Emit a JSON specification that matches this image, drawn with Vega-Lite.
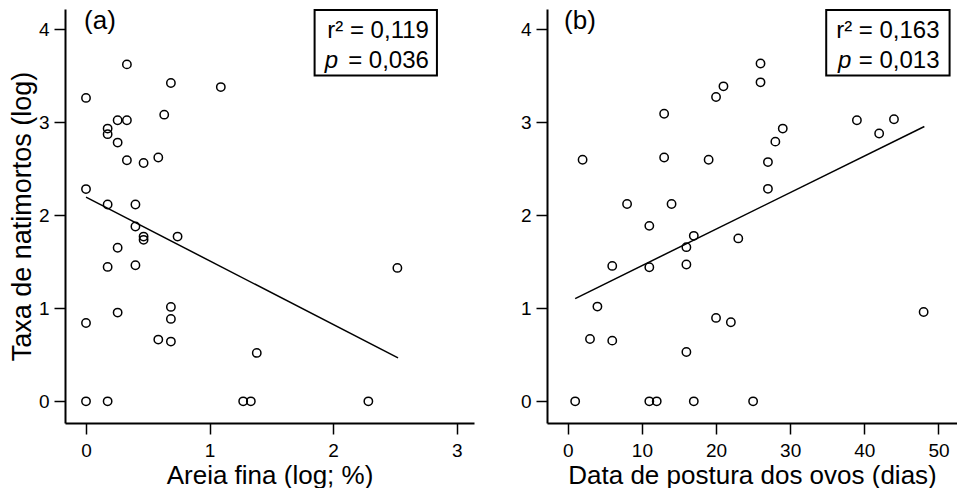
{
  "$schema": "https://vega.github.io/schema/vega-lite/v6.json",
  "padding": {"left": 8, "top": 8, "right": 0, "bottom": 0},
  "background": "white",
  "config": {
    "view": {"stroke": null},
    "font": "Liberation Sans",
    "axis": {
      "domainColor": "black", "domainWidth": 2, "tickColor": "black", "tickWidth": 1.5, "tickSize": 11,
      "labelFontSize": 19, "labelColor": "black", "labelFont": "Liberation Sans",
      "titleFontSize": 26, "titleFontWeight": "normal", "titleColor": "black", "titleFont": "Liberation Sans",
      "grid": false, "labelFlush": false, "labelOverlap": false, "format": "d"
    },
    "axisY": {"labelPadding": 5, "titlePadding": 2, "titleFontSize": 27},
    "axisX": {"labelPadding": 7, "titlePadding": 2},
    "text": {"font": "Liberation Sans", "color": "black"}
  },
  "datasets": {
    "areia": [
      {"x": 0.331, "y": 3.62}, {"x": 0.687, "y": 3.42}, {"x": 1.091, "y": 3.376}, {"x": 0, "y": 3.26},
      {"x": 0.633, "y": 3.08}, {"x": 0.256, "y": 3.02}, {"x": 0.331, "y": 3.02}, {"x": 0.175, "y": 2.93},
      {"x": 0.175, "y": 2.87}, {"x": 0.256, "y": 2.78}, {"x": 0.331, "y": 2.59}, {"x": 0.466, "y": 2.56},
      {"x": 0.585, "y": 2.62}, {"x": 0, "y": 2.28}, {"x": 0.175, "y": 2.115}, {"x": 0.4, "y": 2.115},
      {"x": 0.4, "y": 1.878}, {"x": 0.466, "y": 1.77}, {"x": 0.466, "y": 1.735}, {"x": 0.741, "y": 1.77},
      {"x": 0.256, "y": 1.65}, {"x": 0.175, "y": 1.444}, {"x": 0.4, "y": 1.462}, {"x": 2.52, "y": 1.433},
      {"x": 0.687, "y": 1.014}, {"x": 0.256, "y": 0.953}, {"x": 0.687, "y": 0.885}, {"x": 0, "y": 0.842},
      {"x": 0.585, "y": 0.663}, {"x": 0.687, "y": 0.642}, {"x": 1.382, "y": 0.52}, {"x": 0, "y": 0},
      {"x": 0.175, "y": 0}, {"x": 1.272, "y": 0}, {"x": 1.334, "y": 0}, {"x": 2.285, "y": 0}
    ],
    "dias": [
      {"x": 26, "y": 3.63}, {"x": 26, "y": 3.427}, {"x": 21, "y": 3.384}, {"x": 20, "y": 3.27},
      {"x": 13, "y": 3.09}, {"x": 39, "y": 3.02}, {"x": 44, "y": 3.03}, {"x": 42, "y": 2.877},
      {"x": 29, "y": 2.93}, {"x": 28, "y": 2.79}, {"x": 2, "y": 2.595}, {"x": 13, "y": 2.62},
      {"x": 19, "y": 2.595}, {"x": 27, "y": 2.57}, {"x": 27, "y": 2.283}, {"x": 8, "y": 2.12},
      {"x": 14, "y": 2.12}, {"x": 11, "y": 1.885}, {"x": 17, "y": 1.778}, {"x": 23, "y": 1.75},
      {"x": 16, "y": 1.656}, {"x": 6, "y": 1.455}, {"x": 11, "y": 1.44}, {"x": 16, "y": 1.47},
      {"x": 4, "y": 1.018}, {"x": 48, "y": 0.96}, {"x": 20, "y": 0.896}, {"x": 22, "y": 0.85},
      {"x": 3, "y": 0.67}, {"x": 6, "y": 0.652}, {"x": 16, "y": 0.53}, {"x": 1, "y": 0},
      {"x": 11, "y": 0}, {"x": 12, "y": 0}, {"x": 17, "y": 0}, {"x": 25, "y": 0}
    ]
  },
  "hconcat": [
    {
      "width": 409, "height": 414,
      "layer": [
        {
          "data": {"values": [{"x": 1.85, "x2": 2.84, "y": 4.204, "y2": 3.5}]},
          "mark": {"type": "rect", "fill": "white", "stroke": "black", "strokeWidth": 2},
          "encoding": {
            "x": {"field": "x", "type": "quantitative", "scale": {"domain": [-0.17, 3.14], "nice": false, "zero": false},
                  "axis": {"values": [0, 1, 2, 3], "title": "Areia fina (log; %)"}},
            "x2": {"field": "x2"},
            "y": {"field": "y", "type": "quantitative", "scale": {"domain": [-0.233, 4.215], "nice": false, "zero": false},
                  "axis": {"values": [0, 1, 2, 3, 4], "title": "Taxa de natimortos (log)"}},
            "y2": {"field": "y2"}
          }
        },
        {
          "data": {"name": "areia"},
          "mark": {"type": "point", "shape": "circle", "filled": false, "stroke": "black", "strokeWidth": 1.5, "size": 70, "opacity": 1},
          "encoding": {
            "x": {"field": "x", "type": "quantitative"},
            "y": {"field": "y", "type": "quantitative"}
          }
        },
        {
          "data": {"values": [{"x": 0, "y": 2.194}, {"x": 2.525, "y": 0.466}]},
          "mark": {"type": "line", "color": "black", "strokeWidth": 1.5},
          "encoding": {
            "x": {"field": "x", "type": "quantitative"},
            "y": {"field": "y", "type": "quantitative"}
          }
        },
        {
          "data": {"values": [
            {"x": 2.775, "y": 3.98, "t": "r² = 0,119"},
            {"x": 2.775, "y": 3.656, "t": "= 0,036"}
          ]},
          "mark": {"type": "text", "fontSize": 24, "align": "right", "baseline": "middle"},
          "encoding": {
            "x": {"field": "x", "type": "quantitative"},
            "y": {"field": "y", "type": "quantitative"},
            "text": {"field": "t"}
          }
        },
        {
          "data": {"values": [{"x": 1.932, "y": 3.656, "t": "p"}]},
          "mark": {"type": "text", "fontSize": 24, "fontStyle": "italic", "align": "left", "baseline": "middle"},
          "encoding": {
            "x": {"field": "x", "type": "quantitative"},
            "y": {"field": "y", "type": "quantitative"},
            "text": {"field": "t"}
          }
        },
        {
          "data": {"values": [{"x": -0.016, "y": 4.086, "t": "(a)"}]},
          "mark": {"type": "text", "fontSize": 26, "align": "left", "baseline": "middle"},
          "encoding": {
            "x": {"field": "x", "type": "quantitative"},
            "y": {"field": "y", "type": "quantitative"},
            "text": {"field": "t"}
          }
        }
      ]
    },
    {
      "width": 410, "height": 414,
      "layer": [
        {
          "data": {"values": [{"x": 34.86, "x2": 51.5, "y": 4.204, "y2": 3.5}]},
          "mark": {"type": "rect", "fill": "white", "stroke": "black", "strokeWidth": 2},
          "encoding": {
            "x": {"field": "x", "type": "quantitative", "scale": {"domain": [-2.8, 52.5], "nice": false, "zero": false},
                  "axis": {"values": [0, 10, 20, 30, 40, 50], "title": "Data de postura dos ovos (dias)"}},
            "x2": {"field": "x2"},
            "y": {"field": "y", "type": "quantitative", "scale": {"domain": [-0.233, 4.215], "nice": false, "zero": false},
                  "axis": {"values": [0, 1, 2, 3, 4], "title": null}},
            "y2": {"field": "y2"}
          }
        },
        {
          "data": {"name": "dias"},
          "mark": {"type": "point", "shape": "circle", "filled": false, "stroke": "black", "strokeWidth": 1.5, "size": 70, "opacity": 1},
          "encoding": {
            "x": {"field": "x", "type": "quantitative"},
            "y": {"field": "y", "type": "quantitative"}
          }
        },
        {
          "data": {"values": [{"x": 1, "y": 1.104}, {"x": 48.1, "y": 2.953}]},
          "mark": {"type": "line", "color": "black", "strokeWidth": 1.5},
          "encoding": {
            "x": {"field": "x", "type": "quantitative"},
            "y": {"field": "y", "type": "quantitative"}
          }
        },
        {
          "data": {"values": [
            {"x": 50.15, "y": 3.98, "t": "r² = 0,163"},
            {"x": 50.15, "y": 3.656, "t": "= 0,013"}
          ]},
          "mark": {"type": "text", "fontSize": 24, "align": "right", "baseline": "middle"},
          "encoding": {
            "x": {"field": "x", "type": "quantitative"},
            "y": {"field": "y", "type": "quantitative"},
            "text": {"field": "t"}
          }
        },
        {
          "data": {"values": [{"x": 36.44, "y": 3.656, "t": "p"}]},
          "mark": {"type": "text", "fontSize": 24, "fontStyle": "italic", "align": "left", "baseline": "middle"},
          "encoding": {
            "x": {"field": "x", "type": "quantitative"},
            "y": {"field": "y", "type": "quantitative"},
            "text": {"field": "t"}
          }
        },
        {
          "data": {"values": [{"x": -0.5, "y": 4.086, "t": "(b)"}]},
          "mark": {"type": "text", "fontSize": 26, "align": "left", "baseline": "middle"},
          "encoding": {
            "x": {"field": "x", "type": "quantitative"},
            "y": {"field": "y", "type": "quantitative"},
            "text": {"field": "t"}
          }
        }
      ]
    }
  ],
  "spacing": 73,
  "bounds": "flush"
}
